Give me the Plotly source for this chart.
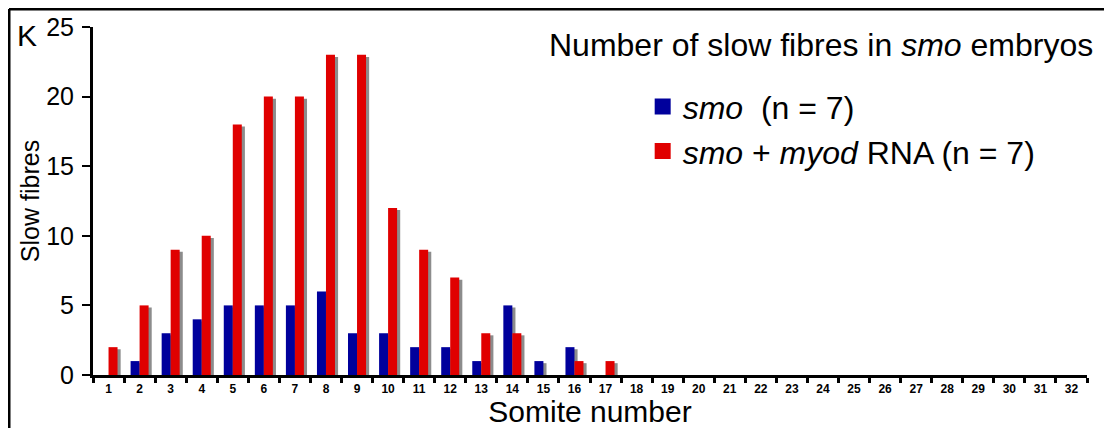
import plotly.graph_objects as go
import numpy as np

somites = [str(i) for i in range(1, 33)]
smo = [0, 1, 3, 4, 5, 5, 5, 6, 3, 3, 2, 2, 1, 5, 1, 2, 0] + [0] * 15
smo_myod = [2, 5, 9, 10, 18, 20, 20, 23, 23, 12, 9, 7, 3, 3, 0, 1, 1] + [0] * 15
y_ticks = [0, 5, 10, 15, 20, 25]
series_names = ["<i>smo</i>  (n = 7)", "<i>smo</i> + <i>myod</i> RNA (n = 7)"]

BLUE = "#00009c"
RED = "#e00000"
SHADOW = "#8c8c8c"
FONT = "Arial, Liberation Sans, sans-serif"

bw = 0.29
sh_dx = 0.1
sh_dy = 0.15

def shadow(vals):
    v = np.array(vals, dtype=float) - sh_dy
    return np.where(np.array(vals) > 0, v, 0).tolist()

fig = go.Figure()
for vals, col, off, name, grp in [(smo, BLUE, -bw, series_names[0], "a"),
                                  (smo_myod, RED, 0, series_names[1], "b")]:
    fig.add_trace(go.Bar(x=somites, y=shadow(vals), width=bw, offset=off + sh_dx,
                         marker=dict(color=SHADOW, line=dict(width=0)), showlegend=False,
                         hoverinfo="skip", legendgroup=grp))
    fig.add_trace(go.Bar(x=somites, y=vals, width=bw, offset=off, name=name,
                         marker=dict(color=col, line=dict(width=0)), showlegend=False,
                         legendgroup=grp))
    # legend entry (larger square swatch) for the series
    fig.add_trace(go.Scatter(x=[None], y=[None], mode="markers", name=name, legendgroup=grp,
                             marker=dict(symbol="square", size=20, color=col), showlegend=True))

# page body has an 8px margin: figure is 1104x420 and sits at (8, 8) in the window
fig.update_layout(
    width=1104, height=420,
    margin=dict(l=85, r=25, t=19, b=53),
    barmode="overlay",
    plot_bgcolor="white", paper_bgcolor="white",
    font=dict(family=FONT, color="black"),
    showlegend=True,
    legend=dict(x=0.553, y=0.85, xanchor="left", yanchor="top",
                font=dict(size=32, family=FONT), bgcolor="rgba(0,0,0,0)",
                tracegroupgap=0, itemsizing="trace"),
    xaxis=dict(type="category", categoryorder="array", categoryarray=somites,
               range=[-0.5, 31.5], tickson="boundaries", ticks="outside", ticklen=5, tickwidth=3,
               tickcolor="black", showline=True, linewidth=3, linecolor="black",
               showgrid=False, zeroline=False, automargin=False, ticklabelstandoff=1,
               tickfont=dict(size=12, family=FONT, weight="bold"),
               title=dict(text="Somite number", font=dict(size=30), standoff=4)),
    yaxis=dict(range=[0, 25], tickvals=y_ticks, ticks="outside", ticklen=8, tickwidth=2,
               tickcolor="black", showline=True, linewidth=3, linecolor="black",
               showgrid=False, zeroline=False, automargin=False, tickfont=dict(size=25),
               ticklabelstandoff=3,
               title=dict(text="Slow fibres", font=dict(size=25), standoff=0)),
    annotations=[
        dict(text="Number of slow fibres in <i>smo</i> embryos", xref="paper", yref="paper",
             x=1.008, y=0.948, xanchor="right", yanchor="middle", showarrow=False,
             font=dict(size=32, family=FONT)),
        dict(text="K", xref="paper", yref="paper", x=-0.066, y=0.977, xanchor="center",
             yanchor="middle", showarrow=False, font=dict(size=30, family=FONT)),
    ],
    shapes=[
        dict(type="line", xref="paper", yref="paper", x0=-0.0845, x1=1.03, y0=1.0517, y1=1.0517,
             line=dict(color="black", width=3)),
        dict(type="line", xref="paper", yref="paper", x0=-0.0845, x1=-0.0845, y0=1.0517, y1=-0.16,
             line=dict(color="black", width=3)),
    ],
)

fig.write_html("out.html")
